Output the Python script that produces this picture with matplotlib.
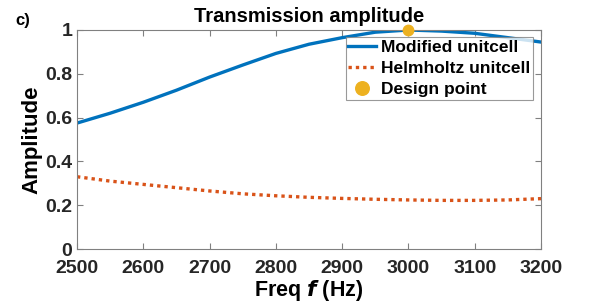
import matplotlib
matplotlib.use("Agg")
import matplotlib.pyplot as plt

plt.rcParams['font.family'] = ['Liberation Sans', 'DejaVu Sans']
plt.rcParams['font.weight'] = 'bold'

freq = [2500, 2550, 2600, 2650, 2700, 2750, 2800, 2850, 2900, 2950, 3000, 3050, 3100, 3150, 3200]
modified = [0.575, 0.62, 0.67, 0.725, 0.785, 0.84, 0.893, 0.935, 0.965, 0.99, 1.0, 0.995, 0.985, 0.965, 0.945]
helmholtz = [0.33, 0.31, 0.295, 0.28, 0.265, 0.252, 0.243, 0.236, 0.231, 0.227, 0.224, 0.222, 0.222, 0.224, 0.23]
design_f = [3000]
design_amp = [1.0]

xticks = [2500, 2600, 2700, 2800, 2900, 3000, 3100, 3200]
yticks = [0, 0.2, 0.4, 0.6, 0.8, 1]
ytick_labels = ['0', '0.2', '0.4', '0.6', '0.8', '1']

fig = plt.figure(figsize=(5.98, 3.04), dpi=100)
ax = fig.add_axes([77 / 598, 1 - 249 / 304, (541 - 77) / 598, (249 - 30) / 304])

ax.plot(freq, modified, color='#0072BD', lw=2.4, label='Modified unitcell')
ax.plot(freq, helmholtz, color='#D95319', lw=2.4, ls=(0, (1, 1.2)), label='Helmholtz unitcell')
ax.plot(design_f, design_amp, 'o', color='#EDB120', ms=7.5, ls='none', label='Design point', clip_on=False, zorder=5)

ax.set_xlim(2500, 3200)
ax.set_ylim(0, 1)
ax.set_xticks(xticks)
ax.set_yticks(yticks)
ax.set_yticklabels(ytick_labels)
ax.tick_params(direction='in', top=True, right=True, labelsize=14, colors='#808080',
               labelcolor='#262626', length=4)
ax.tick_params(axis='x', pad=8)
ax.tick_params(axis='y', pad=3.5)
for s in ax.spines.values():
    s.set_color('#808080')
    s.set_linewidth(0.8)

ax.set_title('Transmission amplitude', fontsize=14.5, fontweight='bold', pad=6)
ax.set_xlabel('Freq $\\boldsymbol{f}$ (Hz)', fontsize=15.5, fontweight='bold', labelpad=0.5)
ax.set_ylabel('Amplitude', fontsize=16, fontweight='bold', labelpad=2)

leg = ax.legend(loc='upper right', bbox_to_anchor=(533 / 598, 1 - 37 / 304), bbox_transform=fig.transFigure,
                fontsize=12.5, frameon=True, fancybox=False, handlelength=1.6, handletextpad=0.3,
                borderpad=0.15, labelspacing=0.35, borderaxespad=0, markerscale=1.3)
leg.get_frame().set_edgecolor('#808080')
leg.get_frame().set_linewidth(0.8)

fig.text(15 / 598, 1 - 20 / 304, 'c)', fontsize=12, fontweight='bold', va='center')

fig.savefig('out.png', dpi=100)
